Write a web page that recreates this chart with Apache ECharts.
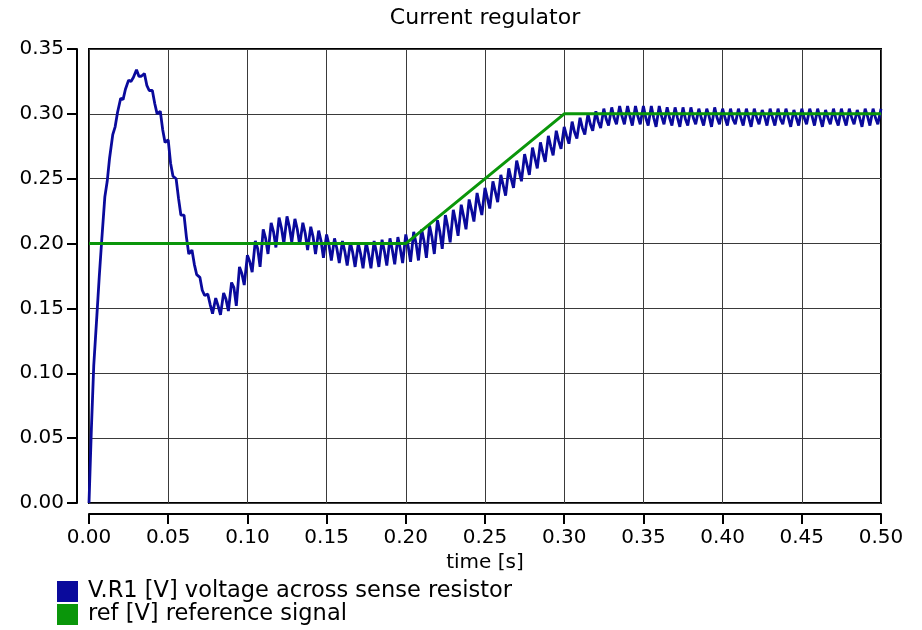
<!DOCTYPE html>
<html>
<head>
<meta charset="utf-8">
<script src="https://cdn.jsdelivr.net/npm/echarts@6/dist/echarts.min.js"></script>
<style>
  html, body { margin: 0; padding: 0; background: #fff; }
  #chart { width: 922px; height: 630px; }
</style>
</head>
<body>
<div id="chart"></div>
<script>
// sampling of the measured signal (s): one ripple period per step
let step = 0.005;
let lowAt = 0.0015;   // band bottom, after each top
let dipAt = 0.003;    // ripple spike, after each top

// V.R1 upper edge of the ripple band, t = 0, 0.005 ... 0.5
let vrTop = [
  0.000, 0.145, 0.236, 0.284, 0.312, 0.326, 0.334, 0.331, 0.318, 0.302,
  0.280, 0.250, 0.222, 0.195, 0.174, 0.161, 0.158, 0.162, 0.170, 0.182,
  0.191, 0.202, 0.211, 0.216, 0.220, 0.221, 0.219, 0.216, 0.213, 0.210,
  0.207, 0.204, 0.202, 0.201, 0.200, 0.201, 0.202, 0.203, 0.204, 0.205,
  0.207, 0.209, 0.211, 0.214, 0.218, 0.222, 0.226, 0.230, 0.234, 0.239,
  0.243, 0.248, 0.253, 0.258, 0.264, 0.269, 0.274, 0.278, 0.283, 0.287,
  0.290, 0.294, 0.297, 0.300, 0.302, 0.304, 0.305, 0.306, 0.306, 0.306,
  0.306, 0.306, 0.306, 0.305, 0.305, 0.305, 0.305, 0.304, 0.304, 0.305,
  0.304, 0.304, 0.304, 0.304, 0.304, 0.303, 0.304, 0.304, 0.304, 0.303,
  0.304, 0.304, 0.304, 0.303, 0.304, 0.304, 0.304, 0.303, 0.304, 0.304,
  0.304
];

// V.R1 lower edge of the ripple band, t = 0.0015, 0.0065 ...
let vrLow = [
  0.057, 0.175, 0.248, 0.290, 0.311, 0.325, 0.329, 0.322, 0.308, 0.288,
  0.262, 0.235, 0.205, 0.184, 0.164, 0.153, 0.152, 0.157, 0.166, 0.177,
  0.186, 0.196, 0.204, 0.209, 0.212, 0.213, 0.211, 0.208, 0.205, 0.202,
  0.199, 0.196, 0.194, 0.193, 0.192, 0.192, 0.193, 0.194, 0.195, 0.196,
  0.198, 0.200, 0.202, 0.205, 0.209, 0.213, 0.217, 0.221, 0.226, 0.230,
  0.235, 0.240, 0.245, 0.250, 0.256, 0.261, 0.266, 0.270, 0.275, 0.279,
  0.283, 0.286, 0.289, 0.292, 0.294, 0.296, 0.297, 0.298, 0.298, 0.298,
  0.297, 0.297, 0.298, 0.297, 0.297, 0.296, 0.297, 0.297, 0.298, 0.297,
  0.297, 0.296, 0.297, 0.297, 0.297, 0.298, 0.297, 0.296, 0.297, 0.297,
  0.297, 0.298, 0.297, 0.297, 0.296, 0.297, 0.297, 0.297, 0.298, 0.297
];

// V.R1 ripple spikes, t = 0.003, 0.008 ...
let vrDip = [
  0.106, 0.202, 0.266, 0.301, 0.319, 0.328, 0.329, 0.318, 0.300, 0.278,
  0.252, 0.222, 0.192, 0.176, 0.160, 0.146, 0.145, 0.148, 0.152, 0.168,
  0.178, 0.182, 0.192, 0.197, 0.200, 0.201, 0.199, 0.195, 0.192, 0.189,
  0.187, 0.185, 0.183, 0.182, 0.181, 0.181, 0.182, 0.183, 0.184, 0.185,
  0.186, 0.187, 0.189, 0.192, 0.196, 0.201, 0.206, 0.211, 0.217, 0.222,
  0.227, 0.232, 0.237, 0.243, 0.248, 0.253, 0.258, 0.263, 0.268, 0.273,
  0.277, 0.281, 0.284, 0.287, 0.289, 0.291, 0.292, 0.292, 0.291, 0.292,
  0.291, 0.290, 0.292, 0.291, 0.290, 0.291, 0.292, 0.291, 0.290, 0.292,
  0.291, 0.292, 0.291, 0.290, 0.292, 0.291, 0.291, 0.292, 0.290, 0.291,
  0.292, 0.291, 0.290, 0.292, 0.291, 0.291, 0.292, 0.290, 0.291, 0.292
];

// reference signal corners
let refT = [0.0, 0.2, 0.3, 0.5];
let refV = [0.2, 0.2, 0.3, 0.3];

let names = ["V.R1 [V] voltage across sense resistor", "ref [V] reference signal"];
let colors = ["#0a0a9c", "#0a960a"];

let vrData = [];
vrTop.forEach((v, k) => {
  let t = k * step;
  vrData.push([+t.toFixed(4), v]);
  if (k < vrLow.length) {
    vrData.push([+(t + lowAt).toFixed(4), vrLow[k]]);
    vrData.push([+(t + dipAt).toFixed(4), vrDip[k]]);
  }
});
let refData = refT.map((t, i) => [t, refV[i]]);

let font = "DejaVu Sans";
let chart = echarts.init(document.getElementById("chart"));

chart.setOption({
  animation: false,
  graphic: [{
    type: "text", x: 485, y: 18,
    style: { text: "Current regulator", font: "22px '" + font + "'", fill: "#000", textAlign: "center", textVerticalAlign: "middle" }
  }],
  grid: {
    left: 89, right: 41, top: 49, bottom: 127,
    show: true, borderColor: "#000", borderWidth: 2
  },
  legend: {
    orient: "vertical", left: 57, top: 580, padding: 0,
    itemWidth: 21, itemHeight: 21, itemGap: 0,
    textStyle: { fontFamily: font, fontSize: 22.5, color: "#000", padding: [0, 0, 0, 5] },
    data: names.map((n) => ({ name: n, icon: "rect" }))
  },
  xAxis: {
    type: "value", min: 0, max: 0.5, interval: 0.05, offset: 11,
    name: "time [s]", nameLocation: "middle", nameGap: 36,
    nameTextStyle: { fontFamily: font, fontSize: 20, color: "#000" },
    axisLine: { show: true, onZero: false, lineStyle: { color: "#000", width: 2 } },
    axisTick: { show: true, length: 10, lineStyle: { color: "#000", width: 2 } },
    axisLabel: { fontFamily: font, fontSize: 20, color: "#000", margin: 14, formatter: (v) => v.toFixed(2) },
    splitLine: { show: true, lineStyle: { color: "#3a3a3a", width: 1 } }
  },
  yAxis: {
    type: "value", min: 0, max: 0.35, interval: 0.05, offset: 12,
    axisLine: { show: true, onZero: false, lineStyle: { color: "#000", width: 2 } },
    axisTick: { show: true, length: 10, lineStyle: { color: "#000", width: 2 } },
    axisLabel: { fontFamily: font, fontSize: 20, color: "#000", margin: 13, formatter: (v) => v.toFixed(2) },
    splitLine: { show: true, lineStyle: { color: "#3a3a3a", width: 1 } }
  },
  series: [
    {
      name: names[0], type: "line", data: vrData, showSymbol: false,
      color: colors[0], lineStyle: { color: colors[0], width: 2.8 }
    },
    {
      name: names[1], type: "line", data: refData, showSymbol: false,
      color: colors[1], lineStyle: { color: colors[1], width: 3 }
    }
  ]
});
</script>
</body>
</html>
